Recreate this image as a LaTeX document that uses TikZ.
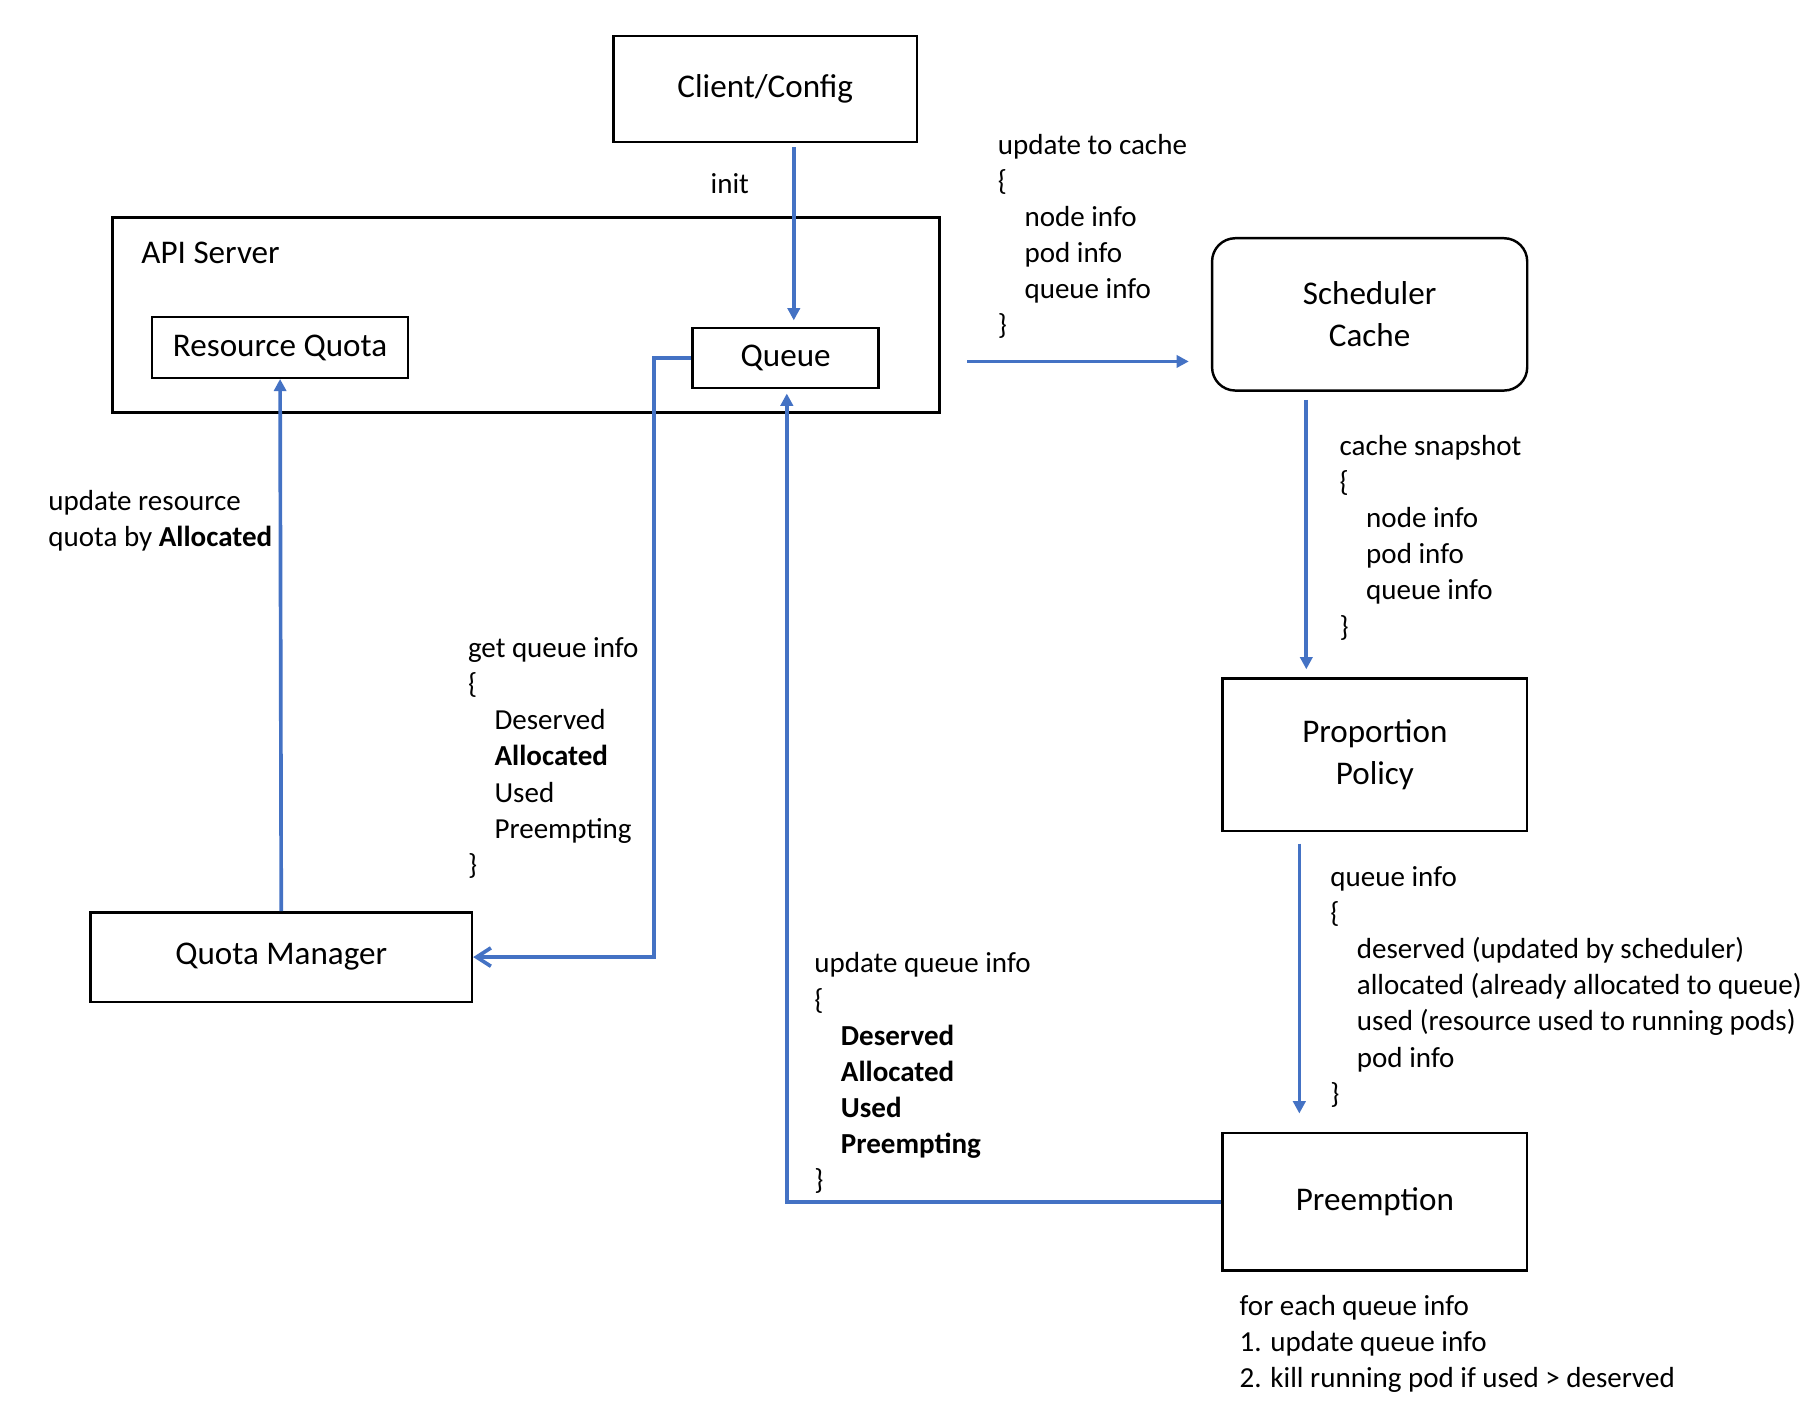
\documentclass[tikz,border=0pt]{standalone}
\usepackage{fontspec}
\setmainfont{Carlito}
\usepackage{tikz}
\usetikzlibrary{arrows.meta}

\definecolor{lineblue}{HTML}{4472C4}
\newcommand{\ind}{\hspace*{6.5pt}}
\newcommand{\boxfont}{\fontsize{8.1}{10.2}\selectfont}
\newcommand{\notefont}{\fontsize{7.1}{8.82}\selectfont}

\begin{document}
\begin{tikzpicture}[x=0.01cm, y=-0.01cm,
    box/.style={draw, line width=0.6pt, inner sep=0pt, align=center, font=\boxfont},
    note/.style={anchor=north west, inner sep=0pt, yshift=-0.6pt, align=left, font=\notefont},
    flow/.style={draw=lineblue, line width=0.9pt, -{Triangle[length=3pt, width=3pt]}},
    barb/.style={draw=lineblue, line width=0.9pt, -{Straight Barb[length=3.5pt, width=4.5pt]}}]
        \useasboundingbox (0,0) rectangle (1566,1211.5);

        % Boxes
        \node[box, minimum width=2.61cm, minimum height=0.91cm] (client) at (658.5,76.5) {Client/Config};
        \node[box, minimum width=7.11cm, minimum height=1.68cm] (api) at (452.5,271) {};
        \node[anchor=west, inner sep=0pt, font=\boxfont] (apilabel) at (121,218) {API Server};
        \node[box, minimum width=2.20cm, minimum height=0.52cm] (rq) at (241,299) {Resource Quota};
        \node[box, minimum width=1.60cm, minimum height=0.52cm] (queue) at (676,308) {Queue};
        \node[box, rounded corners=0.2cm, minimum width=2.71cm, minimum height=1.31cm] (cache) at (1178.5,270.5) {Scheduler\\Cache};
        \node[box, minimum width=2.62cm, minimum height=1.31cm] (policy) at (1183,649.5) {Proportion\\Policy};
        \node[box, minimum width=2.62cm, minimum height=1.18cm] (preempt) at (1183,1034) {Preemption};
        \node[box, minimum width=3.28cm, minimum height=0.77cm] (qm) at (242,823.5) {Quota Manager};

        % Connectors
        \draw[flow, shorten <=1pt, shorten >=1.5pt] (client.south -| 683,0) -- (queue.north -| 683,0);
        \draw[flow, shorten <=6.5pt, shorten >=5.4pt] (api.east |- 0,311) -- (cache.west |- 0,311);
        \draw[flow, shorten <=2pt, shorten >=2pt] (cache.south -| 1124,0) -- (policy.north -| 1124,0);
        \draw[flow, shorten <=2.8pt, shorten >=4.5pt] (policy.south -| 1118,0) -- (preempt.north -| 1118,0);
        \draw[flow, shorten >=1pt] (preempt.west) -| (queue.south -| 677,0);
        \draw[barb] (queue.west) -- ++(-32,0) |- (qm.east);
        \draw[flow] (qm.north) -- (rq.south);

        % Labels
        \node[font=\notefont, inner sep=0pt] (init) at (628,158) {init};
        \node[note] (tocache) at (858,113) {update to cache\\\{\\\ind node info\\\ind pod info\\\ind queue info\\\}};
        \node[note] (snapshot) at (1152,372) {cache snapshot\\\{\\\ind node info\\\ind pod info\\\ind queue info\\\}};
        \node[note] (qinfo) at (1144,743) {queue info\\\{\\\ind deserved (updated by scheduler)\\\ind allocated (already allocated to queue)\\\ind used (resource used to running pods)\\\ind pod info\\\}};
        \node[note] (foreach) at (1066,1112) {for each queue info\\1. update queue info\\2. kill running pod if used > deserved};
        \node[note] (updq) at (700,817) {update queue info\\\{\\\ind\textbf{Deserved}\\\ind\textbf{Allocated}\\\ind\textbf{Used}\\\ind\textbf{Preempting}\\\}};
        \node[note] (getq) at (402,546) {get queue info\\\{\\\ind Deserved\\\ind\textbf{Allocated}\\\ind Used\\\ind Preempting\\\}};
        \node[note] (updrq) at (41,419) {update resource\\quota by \textbf{Allocated}};
    \end{tikzpicture}
\end{document}
